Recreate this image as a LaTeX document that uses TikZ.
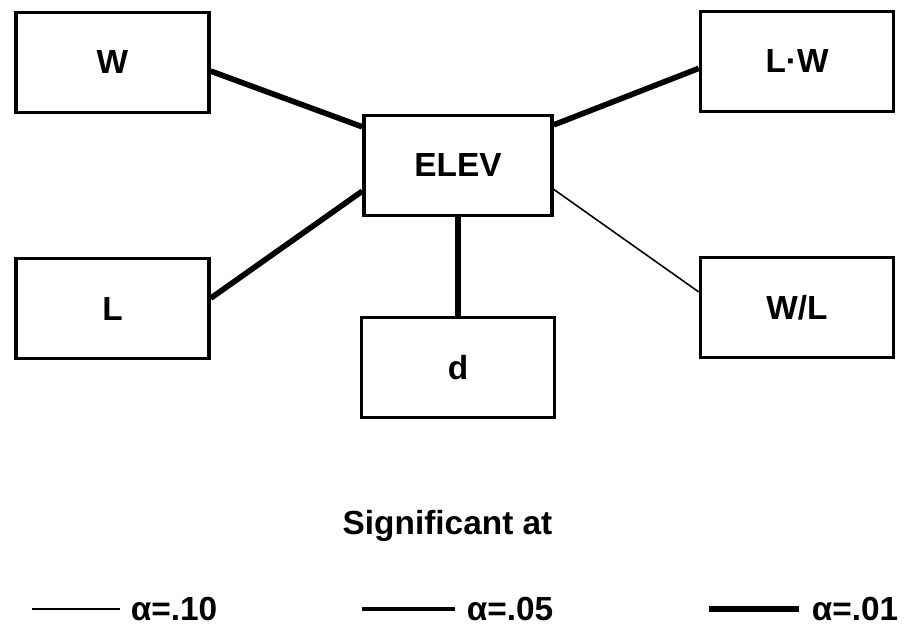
\documentclass[tikz,border=0pt]{standalone}
\usepackage{fontspec}
\setmainfont{Liberation Sans}
\usepackage{tikz}
\usetikzlibrary{positioning}
\tikzset{
  every node/.style={font=\bfseries\fontsize{9.5}{11}\selectfont},
  var/.style={draw, rectangle, line width=1pt, minimum width=1.93cm, minimum height=1.0cm},
  sig10/.style={line width=0.45pt},
  sig05/.style={line width=1pt},
  sig01/.style={line width=1.6pt},
  key/.style={anchor=west, inner sep=0pt, xshift=1mm},
}

\begin{document}
\begin{tikzpicture}[node distance=2.46cm]
    \useasboundingbox (0,0) rectangle (9.04,6.28);
    \node[var, minimum width=1.88cm] (ELEV) at (4.58,4.625) {ELEV};
    \node[var]  (W)  at (1.125,5.655) {W};
    \node[var]  (LW) at (7.97,5.665)  {L·W};
    \node[var]  (L)  [below of=W]     {L};
    \node[var]  (WL) [below of=LW]    {W/L};
    \node[var]  (d)  [below of=ELEV, node distance=2.02cm] {d};
    \path
      (W.-5)     edge [sig01] (ELEV.158)
      (L.6)      edge [sig01] (ELEV.195)
      (ELEV)     edge [sig01] (d)
      (ELEV.23)  edge [sig01] (LW.184)
      (ELEV.-14) edge [sig10] (WL.171);

    % legend
    \node (sig) at (4.475,1.02) {Significant at};
    \draw[sig10] (0.32,0.19) -- (1.20,0.19) node[key] {α=.10};
    \draw[sig05] (3.62,0.19) -- (4.55,0.19) node[key] {α=.05};
    \draw[sig01] (7.09,0.19) -- (7.99,0.19) node[key] {α=.01};
  \end{tikzpicture}
\end{document}
